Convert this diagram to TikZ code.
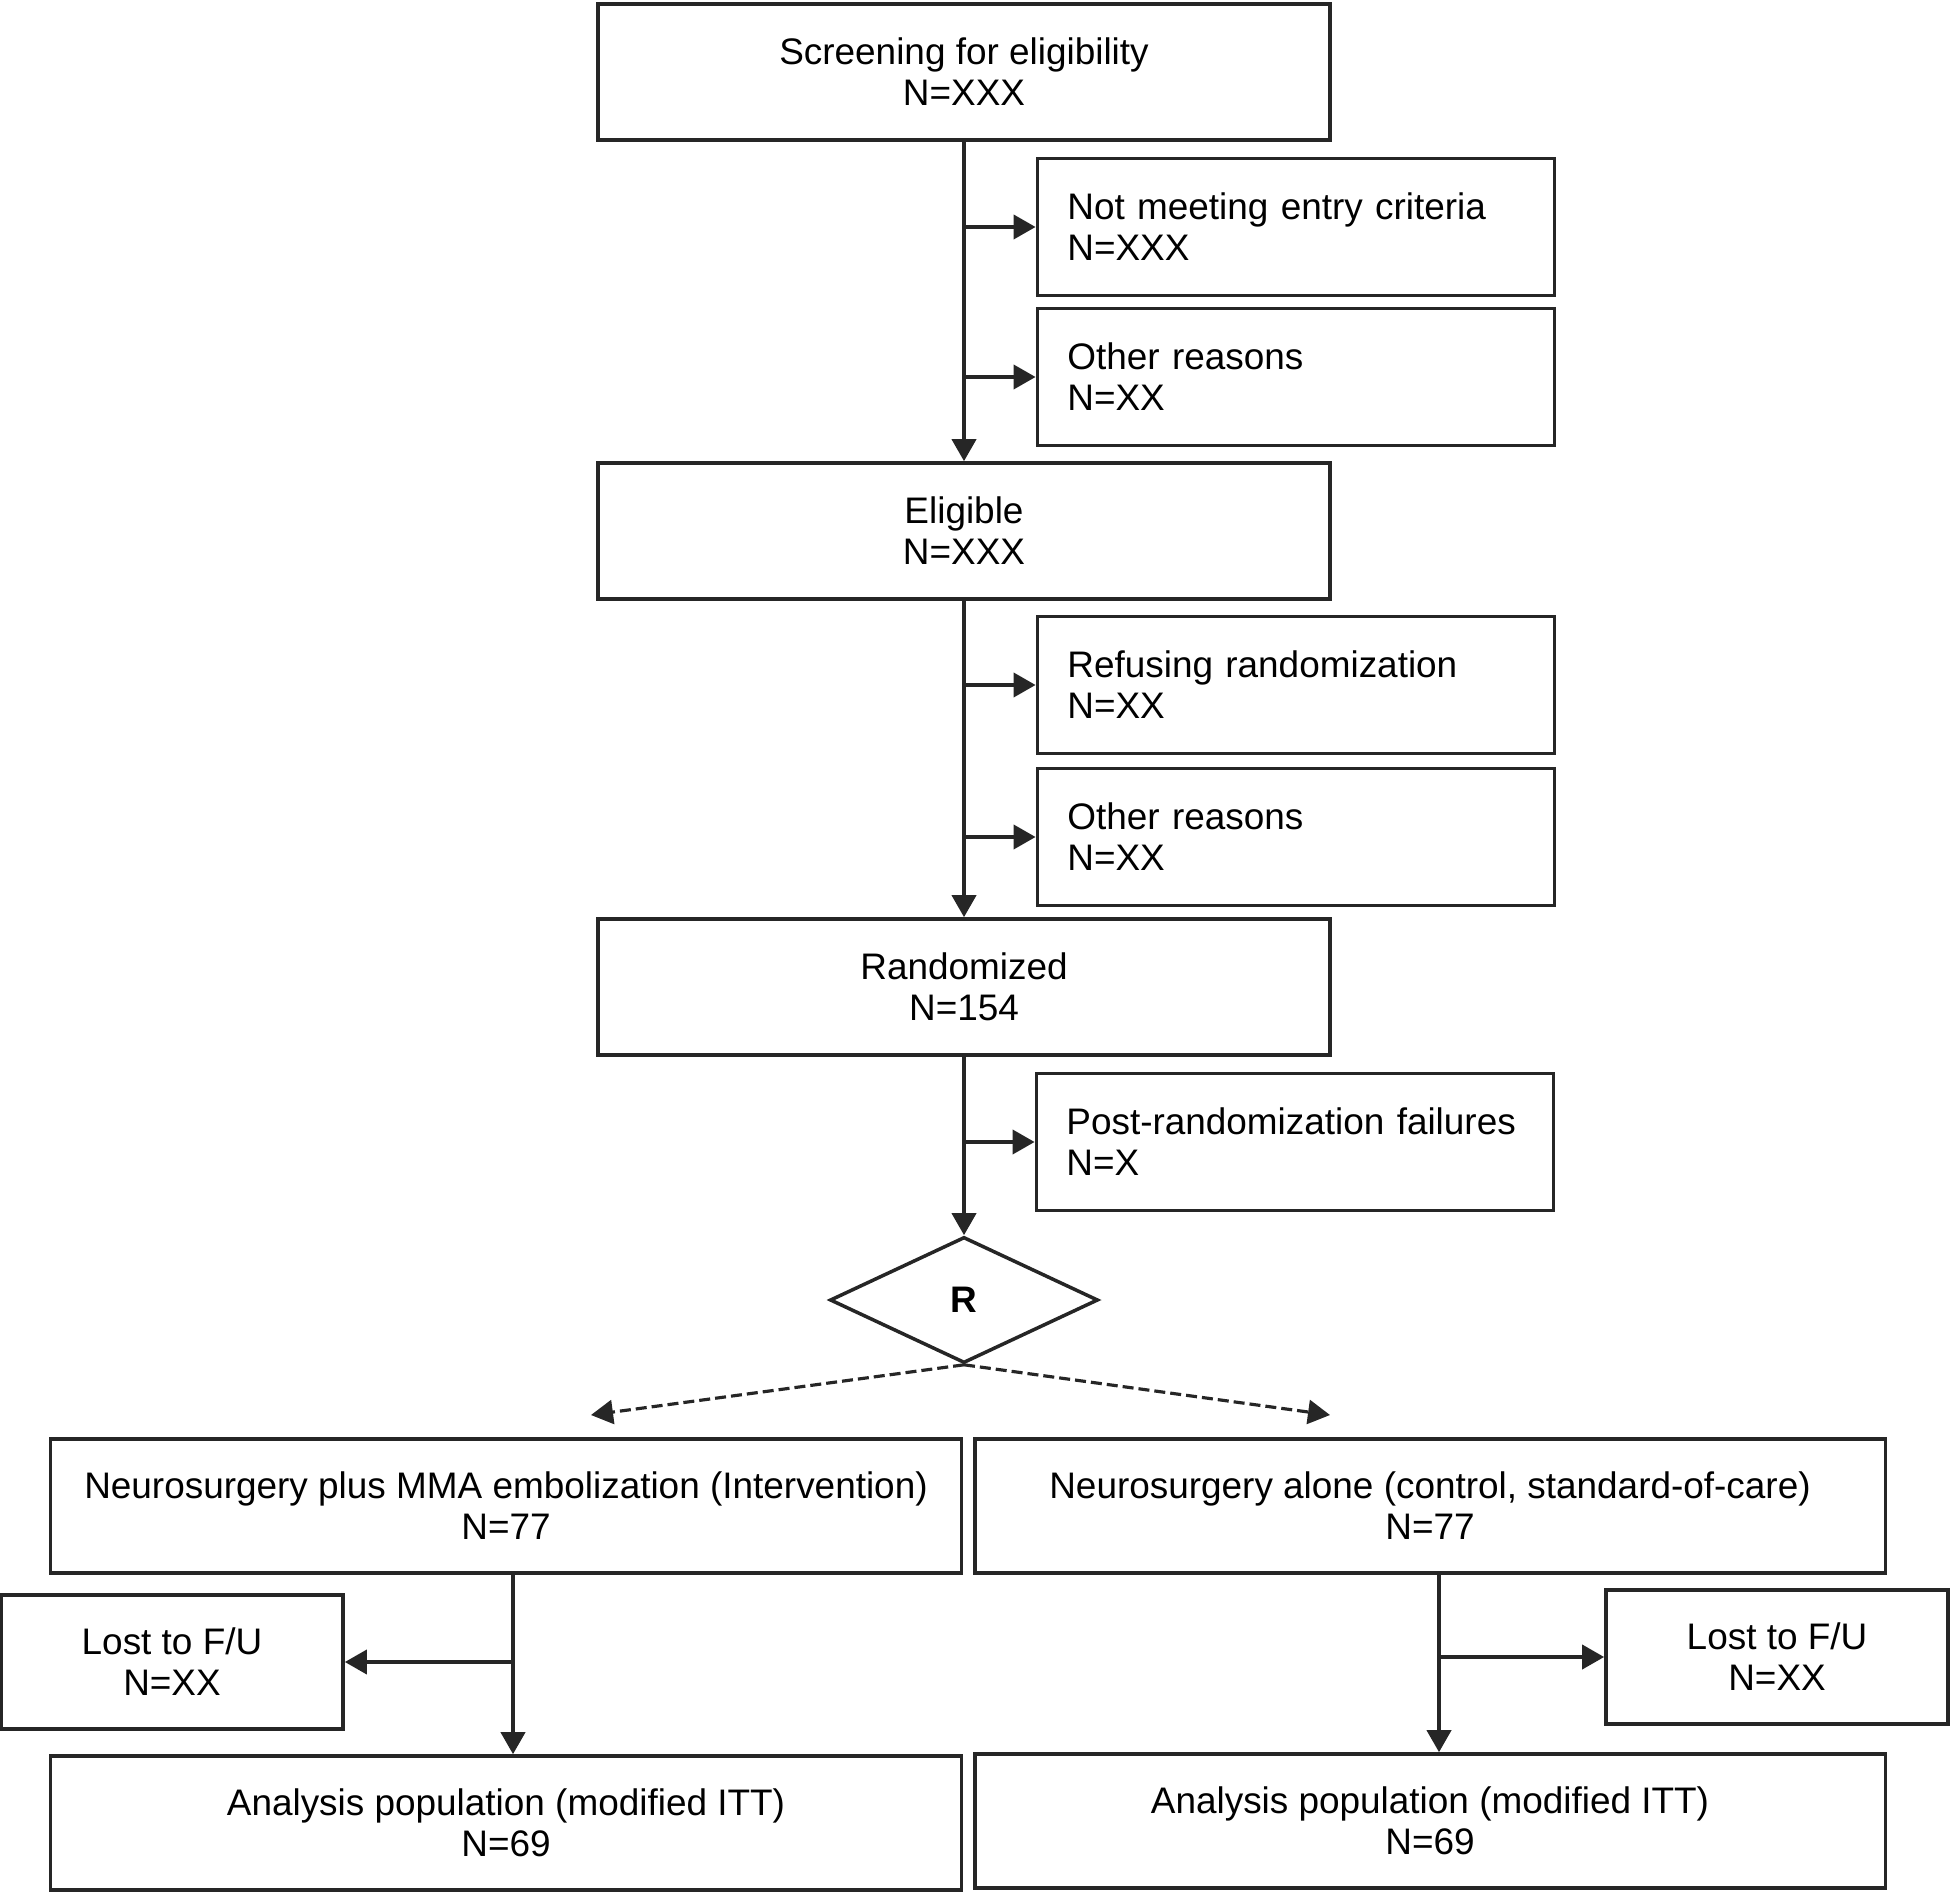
\documentclass[tikz,border=0pt]{standalone}
\usepackage{fontspec}
\setmainfont{Liberation Sans}
\usetikzlibrary{shapes.geometric,arrows.meta,positioning}

\begin{document}
\begin{tikzpicture}[x=0.01cm, y=-0.01cm,
    font=\fontsize{10.5}{11.7}\selectfont,
    box/.style={draw=black!85, line width=1pt, align=center, minimum width=7.32cm, minimum height=1.36cm},
    sidebox/.style={draw=black!85, line width=1pt, align=left, text width=4.57cm, inner xsep=0.3cm, minimum height=1.37cm},
    lostbox/.style={draw=black!85, line width=1pt, align=center, minimum width=3.42cm, minimum height=1.34cm},
    armbox/.style={draw=black!85, line width=1pt, align=center, minimum width=9.1cm, minimum height=1.34cm},
    arr/.style={draw=black!85, line width=1.1pt, -{Triangle[length=0.22cm,width=0.24cm]}},
    dasharr/.style={draw=black!85, line width=0.9pt, dash pattern=on 0.11cm off 0.05cm, -{Triangle[length=0.22cm,width=0.24cm]}}]
    \useasboundingbox (0,0) rectangle (1952,1892);

    % main column
    \node[box] (screen) at (964,72) {Screening for eligibility\\N=XXX};
    \node[box] (elig) at (964,531) {Eligible\\N=XXX};
    \node[box] (rand) at (964,987) {Randomized\\N=154};
    \node[diamond, draw=black!85, line width=1pt, minimum width=2.68cm, minimum height=1.26cm, inner sep=0pt, font=\fontsize{10.5}{11.7}\bfseries] (rnd) at (964,1300) {R};

    % exclusions
    \node[sidebox] (notmeet) at (1296,227) {Not meeting entry criteria\\N=XXX};
    \node[sidebox] (other1) at (1296,377) {Other reasons\\N=XX};
    \node[sidebox] (refuse) at (1296,685) {Refusing randomization\\N=XX};
    \node[sidebox] (other2) at (1296,837) {Other reasons\\N=XX};
    \node[sidebox] (postr) at (1295,1142) {Post-randomization failures\\N=X};

    % arms
    \node[armbox] (interv) at (506,1506) {Neurosurgery plus MMA embolization (Intervention)\\N=77};
    \node[armbox] (control) at (1430,1506) {Neurosurgery alone (control, standard-of-care)\\N=77};
    \node[lostbox] (lostL) at (172,1662) {Lost to F/U\\N=XX};
    \node[lostbox] (lostR) at (1777,1657) {Lost to F/U\\N=XX};
    \node[armbox] (analL) at (506,1823) {Analysis population (modified ITT)\\N=69};
    \node[armbox] (analR) at (1430,1821) {Analysis population (modified ITT)\\N=69};

    \coordinate (tipL) at (591,1415);
    \coordinate (tipR) at (1330,1415);
    \coordinate (brL) at ([xshift=0.07cm]interv.south);
    \coordinate (brR) at ([xshift=0.09cm]control.south);

    % connectors
    \draw[arr] (screen.south) -- (elig.north);
    \draw[arr] (screen.south |- notmeet.west) -- (notmeet.west);
    \draw[arr] (screen.south |- other1.west) -- (other1.west);
    \draw[arr] (elig.south) -- (rand.north);
    \draw[arr] (elig.south |- refuse.west) -- (refuse.west);
    \draw[arr] (elig.south |- other2.west) -- (other2.west);
    \draw[arr] (rand.south) -- (rnd.north);
    \draw[arr] (rand.south |- postr.west) -- (postr.west);
    \draw[dasharr] (rnd.south) -- (tipL);
    \draw[dasharr] (rnd.south) -- (tipR);
    \draw[arr] (brL) -- (brL |- analL.north);
    \draw[arr] (brL |- lostL.east) -- (lostL.east);
    \draw[arr] (brR) -- (brR |- analR.north);
    \draw[arr] (brR |- lostR.west) -- (lostR.west);
\end{tikzpicture}
\end{document}
